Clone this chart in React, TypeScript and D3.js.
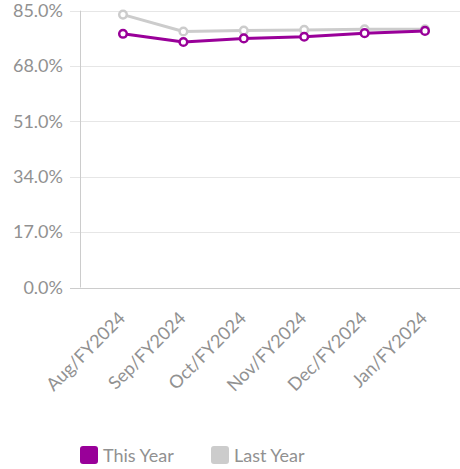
import React from "react";
import * as d3 from "d3";

const categories = ["Aug/FY2024", "Sep/FY2024", "Oct/FY2024", "Nov/FY2024", "Dec/FY2024", "Jan/FY2024"];
const thisYear = [77.9, 75.4, 76.5, 77.0, 78.1, 78.8];
const lastYear = [83.8, 78.6, 78.9, 79.1, 79.3, 79.3];
const yTicks = [0, 17, 34, 51, 68, 85];
const seriesNames = ["This Year", "Last Year"];
const seriesColors = ["#990099", "#cccccc"];

const W = 460;
const H = 469;
const FONT = "Lato, 'Open Sans', sans-serif";

export default function App() {
  const x = d3.scalePoint<string>().domain(categories).range([123, 425]);
  const y = d3.scaleLinear().domain([0, 85]).range([287.5, 10.7]);
  const axisX = 80;
  const line = d3
    .line<number>()
    .x((_, i) => x(categories[i]) as number)
    .y((d) => y(d));

  const series = [thisYear, lastYear];

  return (
    <svg
      width={W}
      height={H}
      style={{ position: "absolute", left: 0, top: 0, background: "#fff" }}
      fontFamily={FONT}
    >
      {yTicks.map((t) => (
        <g key={t}>
          <line
            x1={70}
            x2={W}
            y1={Math.round(y(t)) + 0.5}
            y2={Math.round(y(t)) + 0.5}
            stroke={t === 0 ? "#cccccc" : "#e6e6e6"}
            strokeWidth={1}
          />
          <text
            x={63}
            y={y(t)}
            dy="0.35em"
            textAnchor="end"
            fontSize={18}
            fill="#919191"
          >
            {t.toFixed(1)}%
          </text>
        </g>
      ))}
      <line x1={axisX + 0.5} x2={axisX + 0.5} y1={y(85)} y2={y(0)} stroke="#cccccc" strokeWidth={1} />
      {categories.map((c) => (
        <text
          key={c}
          transform={`translate(${(x(c) as number) - 1},${315}) rotate(-45)`}
          textAnchor="end"
          fontSize={18}
          fill="#919191"
          dy="0.35em"
        >
          {c}
        </text>
      ))}
      {[1, 0].map((si) => (
        <g key={si}>
          <path
            d={line(series[si]) || ""}
            fill="none"
            stroke={seriesColors[si]}
            strokeWidth={3}
            strokeLinejoin="round"
          />
          {series[si].map((v, i) => (
            <circle
              key={i}
              cx={x(categories[i]) as number}
              cy={y(v)}
              r={3.8}
              fill="#ffffff"
              stroke={seriesColors[si]}
              strokeWidth={2.5}
            />
          ))}
        </g>
      ))}
      {seriesNames.map((n, i) => {
        const lx = 80 + i * 131;
        return (
          <g key={n}>
            <rect x={lx} y={446} width={18} height={18} rx={3} fill={seriesColors[i]} />
            <text x={lx + 23} y={462} fontSize={18} fill="#919191">
              {n}
            </text>
          </g>
        );
      })}
    </svg>
  );
}
